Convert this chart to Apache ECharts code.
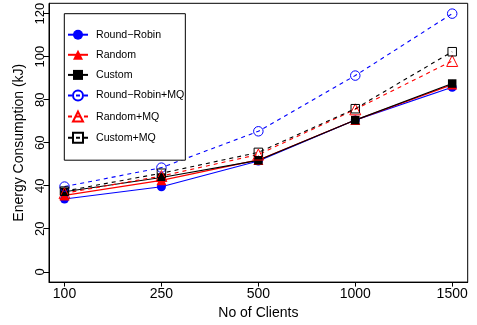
<!DOCTYPE html>
<html>
<head>
<meta charset="utf-8">
<script src="https://cdn.jsdelivr.net/npm/echarts@6/dist/echarts.min.js"></script>
<style>html,body{margin:0;padding:0;background:#fff}#c{width:477px;height:325px}</style>
</head>
<body>
<div id="c"></div>
<script>
const categories = ['100', '250', '500', '1000', '1500'];
const yTicks = [0, 20, 40, 60, 80, 100, 120];
const seriesNames = ['Round\u2212Robin', 'Random', 'Custom', 'Round\u2212Robin+MQ', 'Random+MQ', 'Custom+MQ'];
const roundRobin   = [33.8, 39.5, 51.5, 70.5, 85.8];
const random       = [35.5, 42.5, 52.0, 70.5, 87.0];
const custom       = [37.2, 43.8, 51.8, 70.5, 87.5];
const roundRobinMQ = [39.6, 48.4, 65.3, 91.2, 120.0];
const randomMQ     = [36.5, 44.5, 54.5, 75.5, 98.0];
const customMQ     = [37.5, 45.8, 55.5, 75.8, 102.3];

const FONT = 'Liberation Sans, Arial, sans-serif';
const pts = arr => arr.map((v, i) => [i, v]);

function mk(name, data, color, symbol, size, open, dashed) {
  return {
    name: name, type: 'line', data: pts(data),
    symbol: symbol, symbolSize: size,
    lineStyle: { color: color, width: 1.1, type: dashed ? [4, 4] : 'solid' },
    itemStyle: open ? { color: 'rgba(0,0,0,0)', borderColor: color, borderWidth: 1 } : { color: color, borderWidth: 0 },
    emphasis: { disabled: true },
    animation: false
  };
}

const chart = echarts.init(document.getElementById('c'), null, { renderer: 'canvas' });
chart.setOption({
  animation: false,
  backgroundColor: '#fff',
  textStyle: { fontFamily: FONT },
  grid: { left: 49, top: 3, right: 9.3, bottom: 37, show: true, borderColor: '#000', borderWidth: 1 },
  xAxis: {
    type: 'value', min: -0.16, max: 4.16,
    name: 'No of Clients', nameLocation: 'middle', nameGap: 20,
    nameTextStyle: { fontSize: 14, color: '#000', fontFamily: FONT },
    axisLine: { show: true, onZero: false, lineStyle: { color: '#000', width: 1 } },
    axisTick: { show: true, length: 4.5, lineStyle: { color: '#000' }, customValues: [0, 1, 2, 3, 4] },
    axisLabel: { fontSize: 14, color: '#000', margin: 5, fontFamily: FONT,
      customValues: [0, 1, 2, 3, 4], formatter: v => categories[Math.round(v)] },
    splitLine: { show: false }
  },
  yAxis: {
    type: 'value', min: -4.8, max: 124.8,
    name: 'Energy Consumption (kJ)', nameLocation: 'middle', nameGap: 19.5,
    nameTextStyle: { fontSize: 14, color: '#000', fontFamily: FONT },
    axisLine: { show: true, onZero: false, lineStyle: { color: '#000', width: 1 } },
    axisTick: { show: true, length: 5.5, lineStyle: { color: '#000' }, customValues: yTicks },
    axisLabel: { fontSize: 13, color: '#000', margin: 2, rotate: 90, fontFamily: FONT,
      customValues: yTicks, formatter: v => String(v) },
    splitLine: { show: false }
  },
  legend: {
    orient: 'vertical', left: 64.3, top: 13.7,
    itemWidth: 20, itemHeight: 12.5, itemGap: 9.1,
    padding: [15.5, 1, 16.5, 2.7],
    borderColor: '#000', borderWidth: 1, backgroundColor: '#fff',
    textStyle: { fontSize: 10.6, color: '#000', fontFamily: FONT, padding: [0, 0, 0, 3] },
    selectedMode: false,
    data: seriesNames
  },
  series: [
    mk(seriesNames[0], roundRobin, '#0000ff', 'circle', 9, false, false),
    mk(seriesNames[1], random, '#ff0000', 'triangle', 10, false, false),
    mk(seriesNames[2], custom, '#000000', 'rect', 8.5, false, false),
    mk(seriesNames[3], roundRobinMQ, '#0000ff', 'circle', 9.5, true, true),
    mk(seriesNames[4], randomMQ, '#ff0000', 'triangle', 11, true, true),
    mk(seriesNames[5], customMQ, '#000000', 'rect', 8.5, true, true)
  ]
});
</script>
</body>
</html>
